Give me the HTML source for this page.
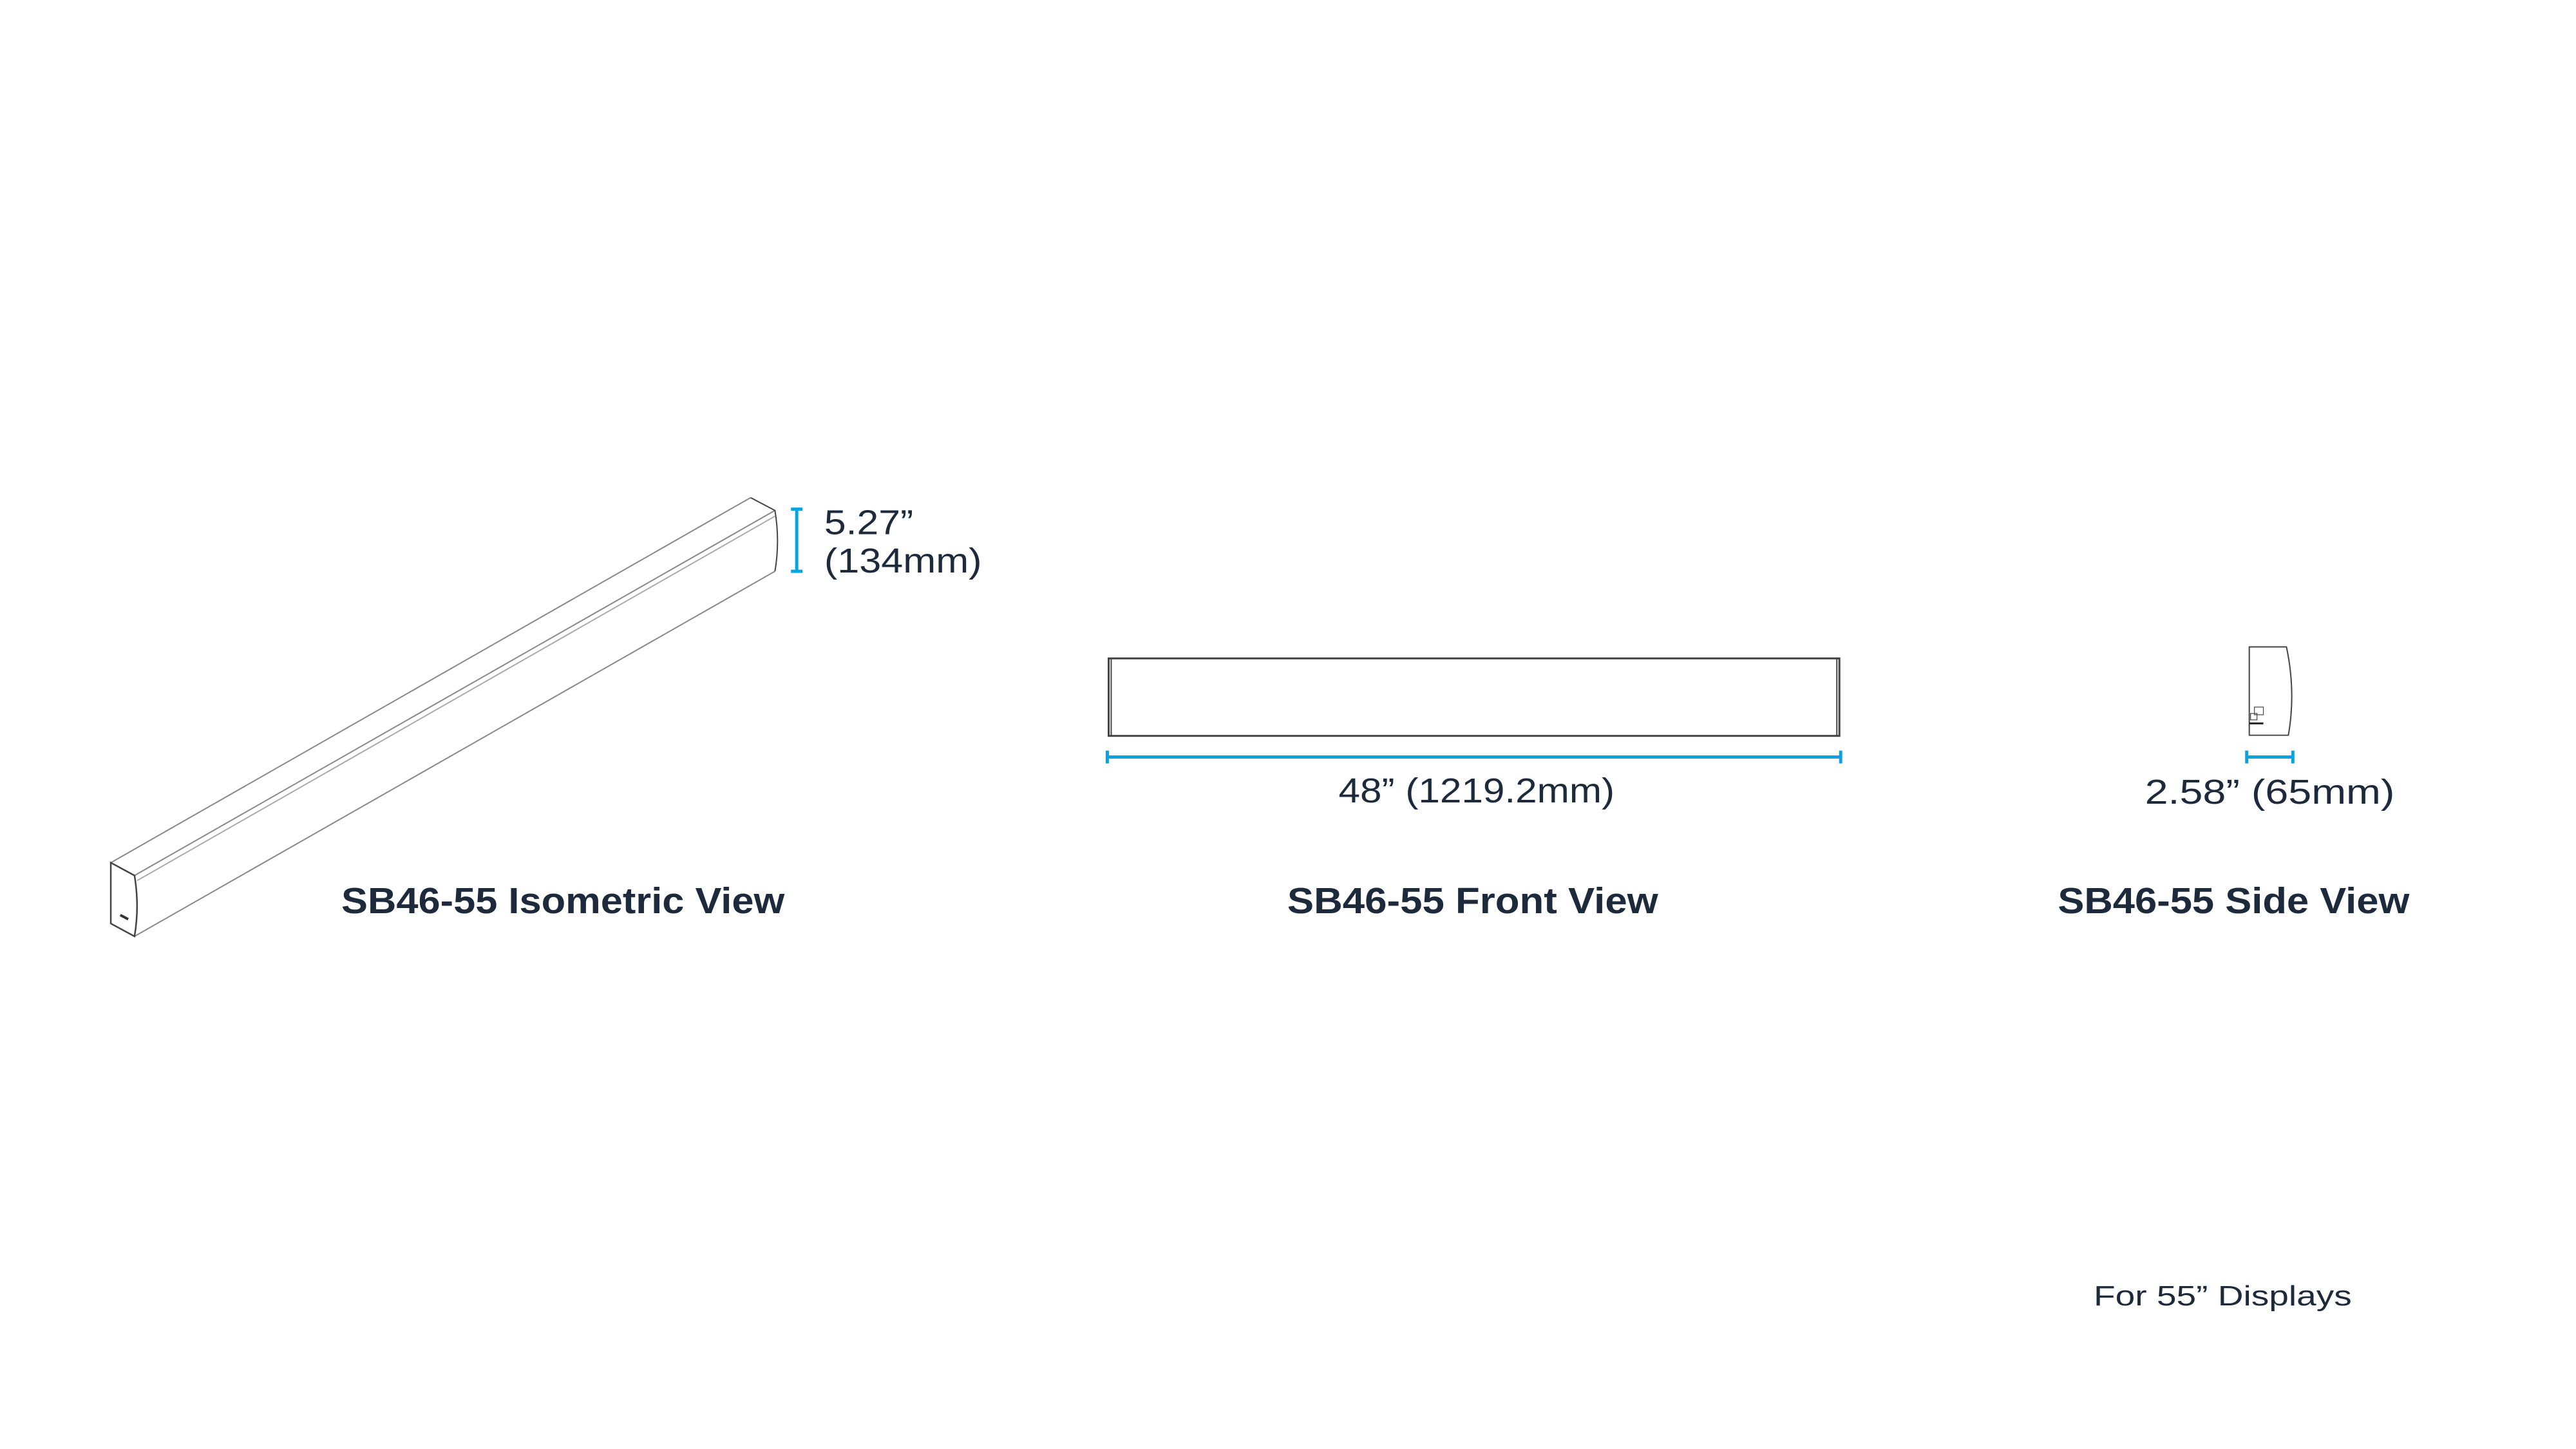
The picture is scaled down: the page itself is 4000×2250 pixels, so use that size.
<!DOCTYPE html>
<html><head><meta charset="utf-8"><style>
html,body{margin:0;padding:0;background:#fff;}
svg{display:block;}
</style></head><body>
<svg width="4000" height="2250" viewBox="0 0 4000 2250" xmlns="http://www.w3.org/2000/svg">
<rect width="4000" height="2250" fill="#fff"/>
<g transform="scale(0.9945)">
<g fill="none" stroke="#888" stroke-width="2">
  <line x1="173" y1="1347" x2="1172" y2="777"/>
  <line x1="210" y1="1367" x2="1210" y2="797"/>
  <line x1="214" y1="1375" x2="1210" y2="806" stroke="#aaa"/>
  <line x1="210" y1="1462" x2="1210" y2="892"/>
  <path d="M173 1347 L210 1367 Q218 1415 210 1462 L173 1442 Z" stroke="#444" stroke-width="2.5"/>
  <path d="M1172 777 L1210 797 Q1218 845 1210 892" stroke="#444"/>
  <rect x="187" y="1430" width="14" height="4" fill="#333" stroke="none" transform="rotate(28 194 1432)"/>
</g>
<g fill="none" stroke="#444" stroke-width="2">
  <rect x="1731" y="1028" width="1141" height="121" stroke-width="3"/>
  <line x1="1735" y1="1028" x2="1735" y2="1149"/>
  <line x1="2868" y1="1028" x2="2868" y2="1149"/>
  <path d="M3512 1010 L3570 1010 Q3585 1080 3573 1148 L3512 1148 Z"/>
  <rect x="3520" y="1104" width="14" height="12" stroke-width="1.2"/>
  <rect x="3514" y="1114" width="10" height="10" stroke-width="1.2"/>
  <rect x="3512" y="1128" width="22" height="3" fill="#222" stroke="none"/>
</g>
<g stroke="#0aa3e2" stroke-width="5" fill="none">
  <line x1="1244" y1="795" x2="1244" y2="892"/>
  <line x1="1235" y1="795" x2="1253" y2="795"/>
  <line x1="1235" y1="892" x2="1253" y2="892"/>
  <line x1="1729" y1="1182" x2="2874" y2="1182"/>
  <line x1="1729" y1="1172" x2="1729" y2="1192"/>
  <line x1="2874" y1="1172" x2="2874" y2="1192"/>
  <line x1="3508" y1="1182" x2="3580" y2="1182"/>
  <line x1="3508" y1="1172" x2="3508" y2="1192"/>
  <line x1="3580" y1="1172" x2="3580" y2="1192"/>
</g>
<g fill="#1d2a3b" font-family="Liberation Sans, sans-serif">
  <text x="1287" y="834" font-size="54" textLength="139" lengthAdjust="spacingAndGlyphs">5.27”</text>
  <text x="1287" y="894" font-size="54" textLength="246" lengthAdjust="spacingAndGlyphs">(134mm)</text>
  <text x="2090" y="1253" font-size="54" textLength="431" lengthAdjust="spacingAndGlyphs">48” (1219.2mm)</text>
  <text x="3349" y="1255" font-size="54" textLength="390" lengthAdjust="spacingAndGlyphs">2.58” (65mm)</text>
  <text x="533" y="1426" font-size="57" font-weight="bold" textLength="692" lengthAdjust="spacingAndGlyphs">SB46-55 Isometric View</text>
  <text x="2010" y="1426" font-size="57" font-weight="bold" textLength="579" lengthAdjust="spacingAndGlyphs">SB46-55 Front View</text>
  <text x="3213" y="1426" font-size="57" font-weight="bold" textLength="549" lengthAdjust="spacingAndGlyphs">SB46-55 Side View</text>
  <text x="3269" y="2038" font-size="44" textLength="403" lengthAdjust="spacingAndGlyphs">For 55” Displays</text>
</g>
</g>
</svg>
</body></html>
